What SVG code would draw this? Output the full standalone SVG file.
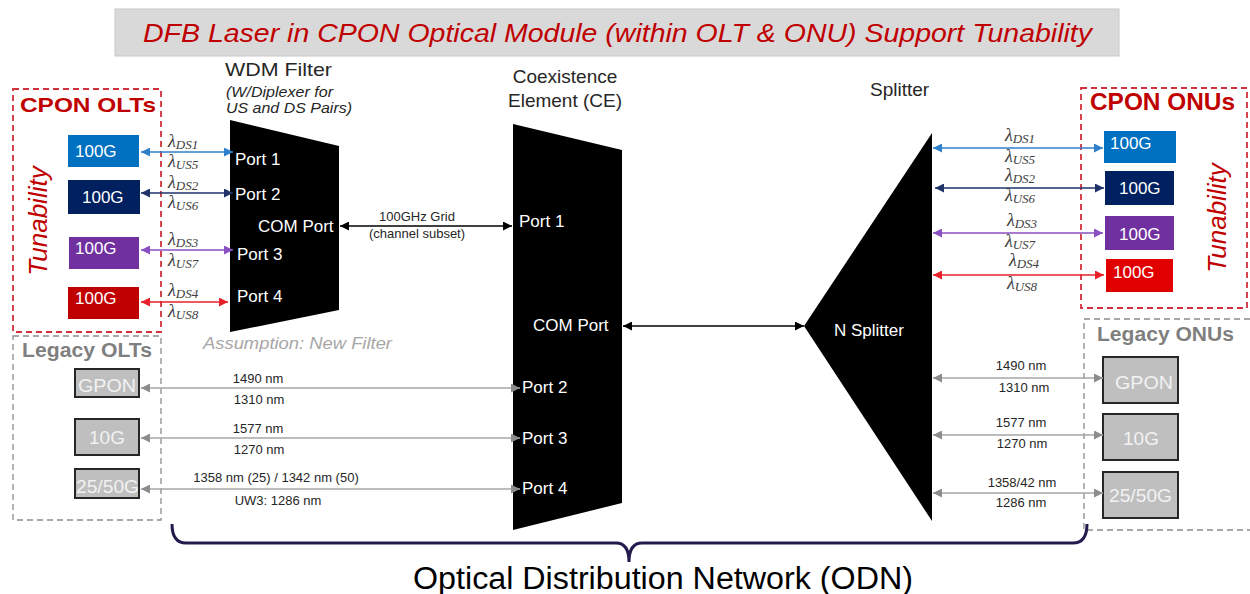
<svg xmlns="http://www.w3.org/2000/svg" width="1250" height="594" viewBox="0 0 1250 594">
<style>
text{font-family:"Liberation Sans",Arial,sans-serif;}
.w{fill:#ffffff;font-size:17px;}
.hd{fill:#262626;font-size:19px;}
.lam{font-family:"Liberation Serif","DejaVu Serif",serif;font-style:italic;font-size:18px;fill:#404040;}
.sub{font-size:13px;}
.nm{font-size:13px;fill:#262626;text-anchor:middle;}
.leg{fill:#BFBFBF;stroke:#262626;stroke-width:2;}
.legt{fill:#F2F2F2;font-size:19px;}
.rdash{fill:none;stroke:#D0313C;stroke-width:1.8;stroke-dasharray:6,4;}
.gdash{fill:none;stroke:#8C8C8C;stroke-width:1.3;stroke-dasharray:6,4;}
.ln{stroke-width:1.6;fill:none;}
.tun{fill:#C00000;font-style:italic;font-size:26px;text-anchor:middle;}
</style>
<defs>
<marker id="mBlue" viewBox="0 0 10 10" refX="10" refY="5" markerWidth="10" markerHeight="9" markerUnits="userSpaceOnUse" orient="auto-start-reverse"><path d="M0,0 L10,5 L0,10 z" fill="#2F7FCB"/></marker>
<marker id="mNavy" viewBox="0 0 10 10" refX="10" refY="5" markerWidth="10" markerHeight="9" markerUnits="userSpaceOnUse" orient="auto-start-reverse"><path d="M0,0 L10,5 L0,10 z" fill="#1F3368"/></marker>
<marker id="mPurp" viewBox="0 0 10 10" refX="10" refY="5" markerWidth="10" markerHeight="9" markerUnits="userSpaceOnUse" orient="auto-start-reverse"><path d="M0,0 L10,5 L0,10 z" fill="#8A4FC0"/></marker>
<marker id="mRed" viewBox="0 0 10 10" refX="10" refY="5" markerWidth="10" markerHeight="9" markerUnits="userSpaceOnUse" orient="auto-start-reverse"><path d="M0,0 L10,5 L0,10 z" fill="#E8202A"/></marker>
<marker id="mGray" viewBox="0 0 10 10" refX="10" refY="5" markerWidth="10" markerHeight="9" markerUnits="userSpaceOnUse" orient="auto-start-reverse"><path d="M0,0 L10,5 L0,10 z" fill="#8C8C8C"/></marker>
<marker id="mBlack" viewBox="0 0 10 10" refX="10" refY="5" markerWidth="10" markerHeight="9" markerUnits="userSpaceOnUse" orient="auto-start-reverse"><path d="M0,0 L10,5 L0,10 z" fill="#000000"/></marker>
</defs>
<rect width="1250" height="594" fill="#ffffff"/>

<g id="title">
<rect x="115" y="9" width="1004" height="47" fill="#D9D9D9" stroke="#C8C8C8" stroke-width="1"/>
<text x="143" y="42" font-size="25" font-style="italic" fill="#C00000" textLength="949" lengthAdjust="spacingAndGlyphs">DFB Laser in CPON Optical Module (within OLT &amp; ONU) Support Tunability</text>
</g>

<g id="cpon-olts">
<rect class="rdash" x="13" y="89" width="148" height="243"/>
<text x="20" y="112" font-size="21" font-weight="bold" fill="#C00000" textLength="136" lengthAdjust="spacingAndGlyphs">CPON OLTs</text>
<text class="tun" x="47" y="221" transform="rotate(-90 47 221)">Tunability</text>
<rect x="68" y="135" width="71" height="32" fill="#0070C0"/><text class="w" x="75" y="157">100G</text>
<rect x="68" y="180" width="72" height="34" fill="#002060"/><text class="w" x="82" y="203">100G</text>
<rect x="69" y="237" width="70" height="32" fill="#7030A0"/><text class="w" x="75" y="254">100G</text>
<rect x="68" y="287" width="71" height="32" fill="#C00000"/><text class="w" x="75" y="304">100G</text>
</g>

<g id="legacy-olts">
<rect class="gdash" x="13" y="336" width="148" height="184"/>
<text x="22" y="357" font-size="20" font-weight="bold" fill="#7F7F7F" textLength="130" lengthAdjust="spacingAndGlyphs">Legacy OLTs</text>
<rect class="leg" x="75" y="369" width="64" height="28"/><text class="legt" x="78" y="392" textLength="58" lengthAdjust="spacingAndGlyphs">GPON</text>
<rect class="leg" x="75" y="419" width="64" height="36"/><text class="legt" x="107" y="444" text-anchor="middle">10G</text>
<rect class="leg" x="75" y="469" width="64" height="29"/><text class="legt" x="76" y="493" textLength="63" lengthAdjust="spacingAndGlyphs">25/50G</text>
</g>

<g id="wdm-filter">
<text class="hd" x="225" y="76" textLength="107" lengthAdjust="spacingAndGlyphs">WDM Filter</text>
<text x="226" y="97" font-size="14" font-style="italic" fill="#262626" textLength="107" lengthAdjust="spacingAndGlyphs">(W/Diplexer for</text>
<text x="226" y="113" font-size="14" font-style="italic" fill="#262626" textLength="126" lengthAdjust="spacingAndGlyphs">US and DS Pairs)</text>
<polygon points="230,120 339,146 339,310 230,332" fill="#000000"/>
<text class="w" x="235" y="165">Port 1</text>
<text class="w" x="235" y="200">Port 2</text>
<text class="w" x="258" y="232">COM Port</text>
<text class="w" x="237" y="260">Port 3</text>
<text class="w" x="237" y="302">Port 4</text>
<text x="203" y="349" font-size="16" font-style="italic" fill="#A6A6A6" textLength="189" lengthAdjust="spacingAndGlyphs">Assumption:  New Filter</text>
</g>

<g id="coexistence-element">
<text class="hd" x="565" y="83" text-anchor="middle">Coexistence</text>
<text class="hd" x="565" y="107" text-anchor="middle">Element (CE)</text>
<polygon points="513,124 622,150 622,503 513,530" fill="#000000"/>
<text class="w" x="519" y="227">Port 1</text>
<text class="w" x="533" y="331">COM Port</text>
<text class="w" x="522" y="393">Port 2</text>
<text class="w" x="522" y="444">Port 3</text>
<text class="w" x="522" y="494">Port 4</text>
</g>

<g id="splitter">
<text class="hd" x="870" y="96">Splitter</text>
<polygon points="932,133 932,521 804,326" fill="#000000"/>
<text class="w" x="834" y="336">N Splitter</text>
</g>

<g id="cpon-onus">
<rect class="rdash" x="1081" y="88" width="166" height="220"/>
<text x="1090" y="110" font-size="23" font-weight="bold" fill="#C00000" textLength="145" lengthAdjust="spacingAndGlyphs">CPON ONUs</text>
<text class="tun" x="1226" y="218" transform="rotate(-90 1226 218)">Tunability</text>
<rect x="1104" y="131" width="72" height="32" fill="#0070C0"/><text class="w" x="1110" y="149">100G</text>
<rect x="1105" y="171" width="69" height="34" fill="#002060"/><text class="w" x="1119" y="194">100G</text>
<rect x="1105" y="216" width="69" height="34" fill="#7030A0"/><text class="w" x="1119" y="240">100G</text>
<rect x="1106" y="259" width="67" height="33" fill="#E00000"/><text class="w" x="1113" y="278">100G</text>
</g>

<g id="legacy-onus">
<path class="gdash" d="M1250,319 H1084 V530 H1250"/>
<text x="1097" y="341" font-size="20" font-weight="bold" fill="#7F7F7F" textLength="137" lengthAdjust="spacingAndGlyphs">Legacy ONUs</text>
<rect class="leg" x="1103" y="357" width="75" height="46"/><text class="legt" x="1115" y="389" textLength="58" lengthAdjust="spacingAndGlyphs">GPON</text>
<rect class="leg" x="1103" y="414" width="75" height="46"/><text class="legt" x="1141" y="445" text-anchor="middle">10G</text>
<rect class="leg" x="1103" y="472" width="75" height="46"/><text class="legt" x="1109" y="502" textLength="63" lengthAdjust="spacingAndGlyphs">25/50G</text>
</g>

<g id="connectors">
<line class="ln" x1="141" y1="152" x2="233" y2="152" stroke="#2F7FCB" marker-start="url(#mBlue)" marker-end="url(#mBlue)"/>
<line class="ln" x1="141" y1="193" x2="233" y2="193" stroke="#1F3368" marker-start="url(#mNavy)" marker-end="url(#mNavy)"/>
<line class="ln" x1="141" y1="250" x2="233" y2="250" stroke="#8A4FC0" marker-start="url(#mPurp)" marker-end="url(#mPurp)"/>
<line class="ln" x1="141" y1="302" x2="228" y2="302" stroke="#E8202A" marker-start="url(#mRed)" marker-end="url(#mRed)"/>
<line class="ln" x1="340" y1="226" x2="512" y2="226" stroke="#000000" marker-start="url(#mBlack)" marker-end="url(#mBlack)"/>
<line class="ln" x1="141" y1="388" x2="520" y2="388" stroke="#A6A6A6" marker-start="url(#mGray)" marker-end="url(#mGray)"/>
<line class="ln" x1="141" y1="438" x2="520" y2="438" stroke="#A6A6A6" marker-start="url(#mGray)" marker-end="url(#mGray)"/>
<line class="ln" x1="141" y1="489" x2="520" y2="489" stroke="#A6A6A6" marker-start="url(#mGray)" marker-end="url(#mGray)"/>
<line class="ln" x1="623" y1="326" x2="804" y2="326" stroke="#000000" marker-start="url(#mBlack)" marker-end="url(#mBlack)"/>
<line class="ln" x1="933" y1="148" x2="1103" y2="148" stroke="#2F7FCB" marker-start="url(#mBlue)" marker-end="url(#mBlue)"/>
<line class="ln" x1="935" y1="188" x2="1104" y2="188" stroke="#1F3368" marker-start="url(#mNavy)" marker-end="url(#mNavy)"/>
<line class="ln" x1="933" y1="233" x2="1103" y2="233" stroke="#8A4FC0" marker-start="url(#mPurp)" marker-end="url(#mPurp)"/>
<line class="ln" x1="933" y1="275" x2="1104" y2="275" stroke="#E8202A" marker-start="url(#mRed)" marker-end="url(#mRed)"/>
<line class="ln" x1="933" y1="378" x2="1103" y2="378" stroke="#A6A6A6" marker-start="url(#mGray)" marker-end="url(#mGray)"/>
<line class="ln" x1="933" y1="435" x2="1103" y2="435" stroke="#A6A6A6" marker-start="url(#mGray)" marker-end="url(#mGray)"/>
<line class="ln" x1="933" y1="493" x2="1103" y2="493" stroke="#A6A6A6" marker-start="url(#mGray)" marker-end="url(#mGray)"/>

<text class="lam" x="168" y="147">λ<tspan class="sub" dy="2">DS1</tspan></text>
<text class="lam" x="168" y="167">λ<tspan class="sub" dy="2">US5</tspan></text>
<text class="lam" x="168" y="188">λ<tspan class="sub" dy="2">DS2</tspan></text>
<text class="lam" x="168" y="208">λ<tspan class="sub" dy="2">US6</tspan></text>
<text class="lam" x="168" y="245">λ<tspan class="sub" dy="2">DS3</tspan></text>
<text class="lam" x="168" y="266">λ<tspan class="sub" dy="2">US7</tspan></text>
<text class="lam" x="168" y="296">λ<tspan class="sub" dy="2">DS4</tspan></text>
<text class="lam" x="168" y="317">λ<tspan class="sub" dy="2">US8</tspan></text>

<text class="lam" x="1020" y="141" text-anchor="middle">λ<tspan class="sub" dy="2">DS1</tspan></text>
<text class="lam" x="1020" y="162" text-anchor="middle">λ<tspan class="sub" dy="2">US5</tspan></text>
<text class="lam" x="1020" y="181" text-anchor="middle">λ<tspan class="sub" dy="2">DS2</tspan></text>
<text class="lam" x="1020" y="201" text-anchor="middle">λ<tspan class="sub" dy="2">US6</tspan></text>
<text class="lam" x="1022" y="226" text-anchor="middle">λ<tspan class="sub" dy="2">DS3</tspan></text>
<text class="lam" x="1020" y="247" text-anchor="middle">λ<tspan class="sub" dy="2">US7</tspan></text>
<text class="lam" x="1024" y="266" text-anchor="middle">λ<tspan class="sub" dy="2">DS4</tspan></text>
<text class="lam" x="1022" y="289" text-anchor="middle">λ<tspan class="sub" dy="2">US8</tspan></text>

<text class="nm" x="417" y="221">100GHz  Grid</text>
<text class="nm" x="417" y="238">(channel subset)</text>

<text class="nm" x="258" y="383">1490 nm</text>
<text class="nm" x="259" y="404">1310 nm</text>
<text class="nm" x="258" y="433">1577 nm</text>
<text class="nm" x="259" y="454">1270 nm</text>
<text class="nm" x="276" y="482">1358 nm (25) / 1342 nm (50)</text>
<text class="nm" x="278" y="505">UW3: 1286 nm</text>

<text class="nm" x="1021" y="370">1490 nm</text>
<text class="nm" x="1024" y="392">1310 nm</text>
<text class="nm" x="1021" y="427">1577 nm</text>
<text class="nm" x="1022" y="448">1270 nm</text>
<text class="nm" x="1022" y="487">1358/42 nm</text>
<text class="nm" x="1021" y="507">1286 nm</text>
</g>

<g id="odn-bracket">
<path d="M172,524 Q172,543 186,543 H616 Q629,543 629,562 Q629,543 642,543 H1073 Q1087,543 1087,524" fill="none" stroke="#221C4E" stroke-width="3"/>
<text x="413" y="589" font-size="31" fill="#000000" textLength="500" lengthAdjust="spacingAndGlyphs">Optical Distribution Network (ODN)</text>
</g>
</svg>
